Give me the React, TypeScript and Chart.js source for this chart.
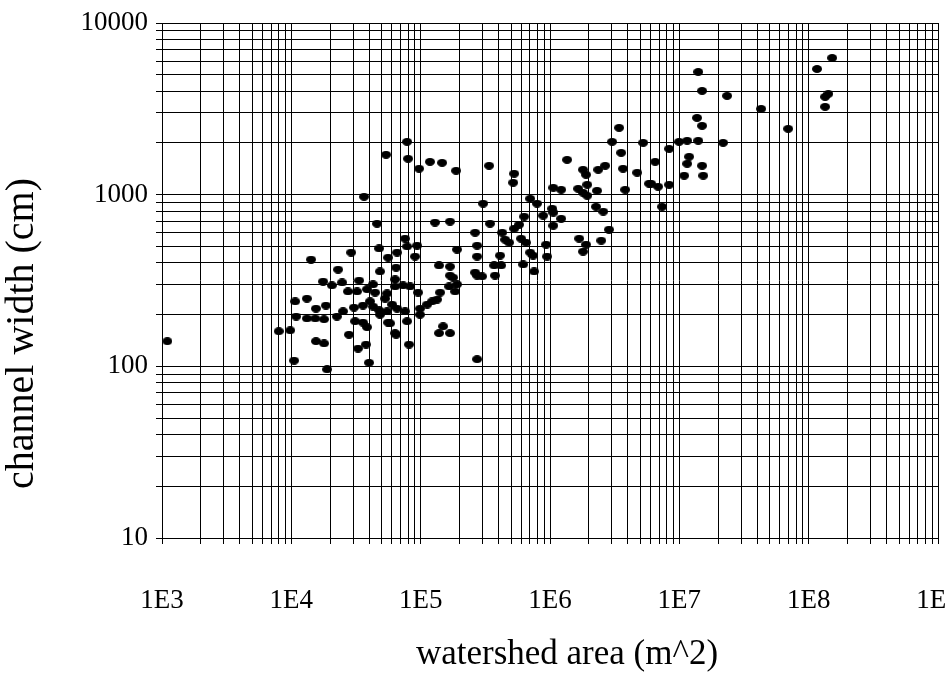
import { useEffect, useRef } from "react";
import { Chart, registerables } from "chart.js";

Chart.register(...registerables);

// Watershed area (m^2) and bankfull channel width (cm), one entry per site.
const areaM2 = [
  1100, 8000, 9800, 10500, 10700, 10900, 13200, 13200, 14200, 15300,
  15500, 15500, 17600, 17900, 17900, 18500, 18900, 20600, 22500, 23000,
  24700, 25100, 27400, 27900, 29000, 30500, 31100, 32200, 32800, 33400,
  35800, 35800, 36500, 37800, 38500, 38500, 39900, 42800, 42800, 46000,
  47700, 48500, 48500, 53100, 56000, 56000, 60100, 63400, 64600, 64600,
  65700, 44400, 55000, 63400, 40600, 47700, 55000, 65700, 58000, 78500,
  54000, 79900, 97200, 118000, 146500, 188000, 129000, 168700, 263600, 75700,
  93800, 78500, 90500, 191000, 273000, 273000, 138700, 168700, 263600, 273000,
  168700, 73100, 82800, 178000, 191000, 166000, 184600, 95500, 141300, 134000,
  122500, 112200, 98900, 75700, 98900, 78500, 63400, 149000, 138700, 168700,
  81300, 273000,
  338000, 528000, 519000, 1355000, 3420000, 3020000, 5250000, 3550000, 1800000, 1900000,
  2360000, 2670000, 3670000, 4720000, 5840000, 1940000, 1060000, 1220000, 1650000, 1800000,
  1940000, 2310000, 3810000, 702000, 794000, 304000, 1040000, 1060000, 885000, 1220000,
  631000, 2270000, 2580000, 1060000, 577000, 528000, 344000, 2860000, 427000, 450000,
  483000, 598000, 653000, 933000, 1680000, 1900000, 1800000, 2490000, 411000, 702000,
  740000, 950000, 620000, 753000, 370000, 419000, 376000, 298500,
  14000000, 15000000, 13700000, 15000000, 9960000, 11500000, 14000000, 8340000, 11900000, 11500000,
  6500000, 15000000, 10900000, 15300000, 6050000, 6850000, 8340000, 7360000, 23400000, 42900000,
  69400000, 116000000, 152000000, 142000000, 134000000, 134000000, 21800000,
];

const widthCm = [
  140, 160, 162, 108, 239, 195, 248, 190, 419, 190,
  217, 140, 312, 188, 136, 226, 96, 296, 195, 366,
  308, 209, 273, 153, 460, 220, 183, 273, 127, 316,
  226, 180, 973, 134, 281, 169, 105, 300, 223, 678,
  486, 357, 200, 248, 430, 180, 229, 321, 376, 153,
  460, 269, 266, 292, 239, 212, 209, 217, 178, 2033,
  1709, 1619, 1417, 1555, 1534, 1379, 688, 697, 601, 555,
  505, 499, 436, 479, 505, 436, 387, 381, 352, 338,
  338, 296, 292, 329, 300, 292, 273, 269, 269, 245,
  239, 229, 217, 209, 200, 183, 156, 171, 156, 156,
  134, 110,
  1475, 1325, 1175, 1597, 2452, 2033, 2005, 1754, 1398, 1307,
  1398, 1475, 1417, 1343, 1159, 1143, 1098, 1069, 1083, 1027,
  986, 1054, 1069, 948, 887, 887, 829, 786, 755, 725,
  745, 851, 797, 660, 669, 634, 678, 626, 601, 547,
  526, 555, 526, 512, 555, 512, 466, 540, 442, 460,
  442, 436, 392, 357, 387, 387, 338, 334,
  5190, 4024, 2803, 2520, 2033, 2061, 2061, 1851, 1663, 1514,
  1555, 1475, 1290, 1290, 1159, 1113, 1143, 851, 3763, 3162,
  2420, 5400, 6260, 3865, 3714, 3250, 2005,
];

// Decades spanned by each log axis and the mantissas that get a grid line.
const xDecades = [3, 4, 5, 6, 7, 8, 9];
const yDecades = [1, 2, 3, 4];
const mantissas = [1, 2, 3, 4, 5, 6, 7, 8, 9];

const xTitle = "watershed area (m^2)";
const yTitle = "channel width (cm)";

const SERIF = '"Liberation Serif", "Times New Roman", serif';

function gridValues(decades: number[]): number[] {
  const out: number[] = [];
  decades.forEach((e, i) => {
    if (i === decades.length - 1) {
      out.push(10 ** e);
    } else {
      mantissas.forEach((m) => out.push(m * 10 ** e));
    }
  });
  return out;
}

function powerOfTen(v: number): number | null {
  const e = Math.round(Math.log10(v));
  return Math.abs(10 ** e - v) < 1e-6 * v ? e : null;
}

const axisTitles = {
  id: "axisTitles",
  afterDraw(chart: any) {
    const { ctx, chartArea } = chart;
    ctx.save();
    ctx.fillStyle = "#000";
    ctx.textAlign = "center";
    ctx.textBaseline = "middle";
    ctx.font = `35px ${SERIF}`;
    ctx.fillText(xTitle, (chartArea.left + chartArea.right) / 2 + 17, chart.height - 18);
    ctx.translate(22, (chartArea.top + chartArea.bottom) / 2 + 53);
    ctx.rotate(-Math.PI / 2);
    ctx.font = `40px ${SERIF}`;
    ctx.fillText(yTitle, 0, 0);
    ctx.restore();
  },
};

export default function App() {
  const canvasRef = useRef<HTMLCanvasElement | null>(null);

  useEffect(() => {
    const canvas = canvasRef.current;
    if (!canvas) return;

    // Slightly flattened black dot used as the marker.
    const dot = document.createElement("canvas");
    dot.width = 10;
    dot.height = 8;
    const dc = dot.getContext("2d")!;
    dc.fillStyle = "#000";
    dc.beginPath();
    dc.ellipse(5, 4, 5, 4, 0, 0, Math.PI * 2);
    dc.fill();

    const xGrid = gridValues(xDecades);
    const yGrid = gridValues(yDecades);

    const tickFont = { family: SERIF, size: 27 };

    const chart = new Chart(canvas, {
      type: "scatter",
      data: {
        datasets: [
          {
            data: areaM2.map((x, i) => ({ x, y: widthCm[i] })),
            pointStyle: dot as any,
            pointRadius: 5,
            backgroundColor: "#000",
            borderColor: "#000",
          },
        ],
      },
      options: {
        animation: false,
        responsive: false,
        devicePixelRatio: 1,
        layout: { padding: { top: 23, right: 9, left: 0, bottom: 0 } },
        plugins: {
          legend: { display: false },
          tooltip: { enabled: false },
        },
        scales: {
          x: {
            type: "logarithmic",
            min: 1e3,
            max: 1e9,
            afterBuildTicks: (s: any) => {
              s.ticks = xGrid.map((value) => ({ value }));
            },
            afterFit: (s: any) => {
              s.height = 135;
              s.paddingLeft = 0;
              s.paddingRight = 0;
            },
            ticks: {
              autoSkip: false,
              maxRotation: 0,
              minRotation: 0,
              padding: 41,
              color: "#000",
              font: tickFont,
              callback: (v: any) => {
                const e = powerOfTen(Number(v));
                return e === null ? "" : `1E${e}`;
              },
            },
            grid: { color: "#000", lineWidth: 1, tickLength: 6 },
            border: { color: "#000", width: 1 },
          },
          y: {
            type: "logarithmic",
            min: 10,
            max: 10000,
            afterBuildTicks: (s: any) => {
              s.ticks = yGrid.map((value) => ({ value }));
            },
            afterFit: (s: any) => {
              s.width = 162;
              s.paddingTop = 0;
              s.paddingBottom = 0;
            },
            ticks: {
              autoSkip: false,
              padding: 8,
              color: "#000",
              font: tickFont,
              callback: (v: any) => {
                const e = powerOfTen(Number(v));
                return e === null ? "" : String(10 ** e);
              },
            },
            grid: { color: "#000", lineWidth: 1, tickLength: 6 },
            border: { color: "#000", width: 1 },
          },
        },
      },
      plugins: [axisTitles],
    });

    return () => chart.destroy();
  }, []);

  return (
    <div style={{ position: "fixed", left: 0, top: 0, width: 947, height: 673, background: "#fff" }}>
      <canvas ref={canvasRef} width={947} height={673} style={{ display: "block" }} />
    </div>
  );
}
